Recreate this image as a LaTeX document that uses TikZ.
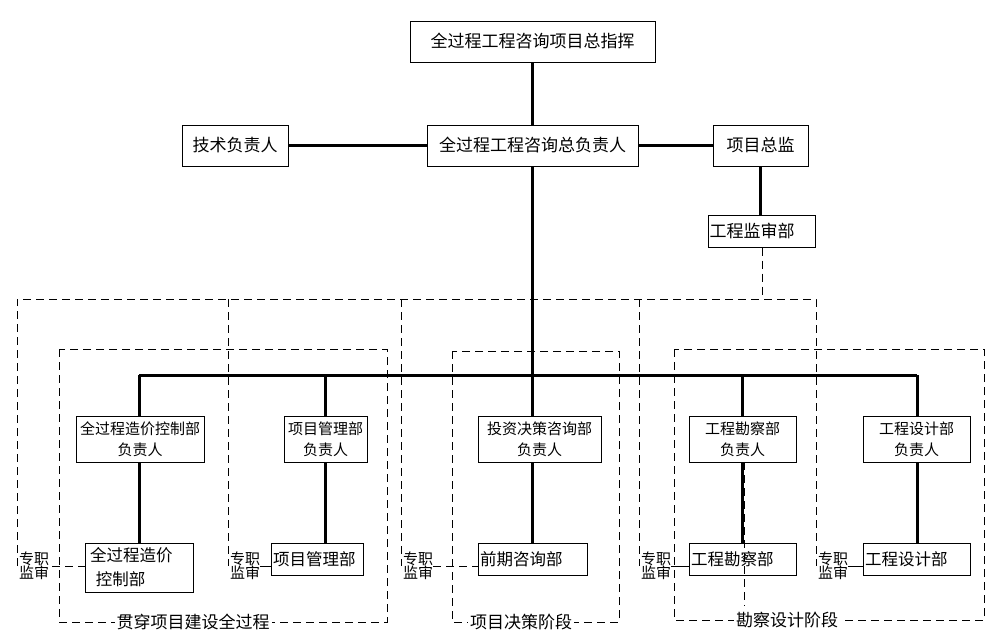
\documentclass[tikz,border=0pt]{standalone}
\usepackage{fontspec}
\newfontfamily\cjk{Noto Sans CJK SC}
\begin{document}
\begin{tikzpicture}[x=1pt,y=-1pt,
  box/.style={draw,line width=1pt,inner sep=0pt,align=center,font=\cjk\fontsize{15}{21}\selectfont},
  bigbox/.style={box,font=\cjk\fontsize{17}{20}\selectfont},
  dept/.style={box,align=left,font=\cjk\fontsize{16.5}{20}\selectfont},
  conn/.style={line width=3pt},
  thin/.style={line width=1pt},
  dsh/.style={line width=1pt,dash pattern=on 8pt off 5pt},
  lab/.style={inner sep=0pt,align=left,font=\cjk\fontsize{15}{14}\selectfont},
  flab/.style={fill=white,inner xsep=2pt,inner ysep=1pt,font=\cjk\fontsize{17}{17}\selectfont}
]
\useasboundingbox (0,0) rectangle (1004,641);

% dashed frames
\draw[dsh] (17,566) -- (17,299) -- (816,299) -- (816,566);
\draw[dsh] (228,299) -- (228,566);
\draw[dsh] (401,299) -- (401,566);
\draw[dsh] (639,299) -- (639,566);
\draw[dsh] (59,349) rectangle (387,622);
\draw[dsh] (452,351) rectangle (619,622);
\draw[dsh] (674,349) rectangle (984,620);
\node[flab] (fA) at (193,622) {贯穿项目建设全过程};
\node[flab] (fB) at (521,622) {项目决策阶段};
\node[flab] (fC) at (787,620) {勘察设计阶段};

% top tier
\node[bigbox,minimum width=245pt,minimum height=41pt] (top) at (532.5,41.5) {全过程工程咨询项目总指挥};
\node[bigbox,minimum width=211pt,minimum height=41pt] (ctr) at (532.5,145.5) {全过程工程咨询总负责人};
\node[bigbox,minimum width=106pt,minimum height=41pt] (tech) at (235,145.5) {技术负责人};
\node[bigbox,minimum width=95pt,minimum height=41pt] (zj) at (760.5,145.5) {项目总监};
\node[bigbox,minimum width=107pt,minimum height=32pt,text width=104pt,inner xsep=1.5pt,align=left] (js) at (761.5,231) {工程监审部};

% leaders
\node[box,minimum width=128pt,minimum height=46pt] (costL) at (140,439) {全过程造价控制部\\负责人};
\node[box,minimum width=83pt,minimum height=46pt] (pmL) at (325.5,439) {项目管理部\\负责人};
\node[box,minimum width=123pt,minimum height=46pt] (invL) at (539.5,439) {投资决策咨询部\\负责人};
\node[box,minimum width=107pt,minimum height=46pt] (surL) at (742.5,439) {工程勘察部\\负责人};
\node[box,minimum width=107pt,minimum height=46pt] (desL) at (916.5,439) {工程设计部\\负责人};

% departments
\node[dept,minimum width=108pt,minimum height=49pt,text width=98pt,inner xsep=5pt,font=\cjk\fontsize{16.5}{24}\selectfont] (costD) at (139,567.5) {全过程造价\\\hspace{0.35em}控制部};
\node[dept,minimum width=92pt,minimum height=32pt,text width=88pt,inner xsep=2pt] (pmD) at (317,559) {项目管理部};
\node[dept,minimum width=109pt,minimum height=32pt,text width=105pt,inner xsep=2pt] (preD) at (532.5,559) {前期咨询部};
\node[dept,minimum width=107pt,minimum height=32pt,text width=103pt,inner xsep=2pt] (surD) at (742.5,559) {工程勘察部};
\node[dept,minimum width=107pt,minimum height=32pt,text width=103pt,inner xsep=2pt] (desD) at (916.5,559) {工程设计部};

% supervision labels
\node[lab,anchor=west] (z1) at (19,566) {专职\\监审};
\node[lab,anchor=west] (z2) at (230,566) {专职\\监审};
\node[lab,anchor=west] (z3) at (403,566) {专职\\监审};
\node[lab,anchor=west] (z4) at (641,566) {专职\\监审};
\node[lab,anchor=west] (z5) at (818,566) {专职\\监审};
\draw[dsh] ([xshift=3pt]z1.east) -- (z1.east -| costD.west);
\draw[thin] (z2.east) -- (z2.east -| pmD.west);
\draw[dsh] (z3.east) -- (z3.east -| preD.west);
\draw[thin] (z4.east) -- (z4.east -| surD.west);
\draw[thin] (z5.east) -- (z5.east -| desD.west);

% top connectors
\draw[conn] (top.south) -- (ctr.north);
\draw[conn] (tech.east) -- (ctr.west);
\draw[conn] (ctr.east) -- (zj.west);
\draw[conn] (zj.south) -- (zj.south |- js.north);
\coordinate (jt) at (762,299);
\draw[dsh] (js.south -| jt) -- (jt);

% bus
\coordinate (busL) at (139,375);
\coordinate (busR) at (917,375);
\draw[conn] (busL) -- (busR);
\draw[conn] (ctr.south) -- (ctr.south |- invL.north);
\draw[conn] (busL) -- (busL |- costL.north);
\draw[conn] (pmL.north |- busL) -- (pmL.north);
\draw[conn] (surL.north |- busL) -- (surL.north);
\draw[conn] (busR) -- (busR |- desL.north);

% leader to department
\draw[conn] (busL |- costL.south) -- (busL |- costD.north);
\draw[conn] (pmL.south) -- (pmL.south |- pmD.north);
\draw[conn] (preD.north |- invL.south) -- (preD.north);
\draw[conn] (surL.south) -- (surD.north);
\draw[conn] (busR |- desL.south) -- (busR |- desD.north);
\draw[dsh] (744,462) -- (744,606);
\end{tikzpicture}
\end{document}
